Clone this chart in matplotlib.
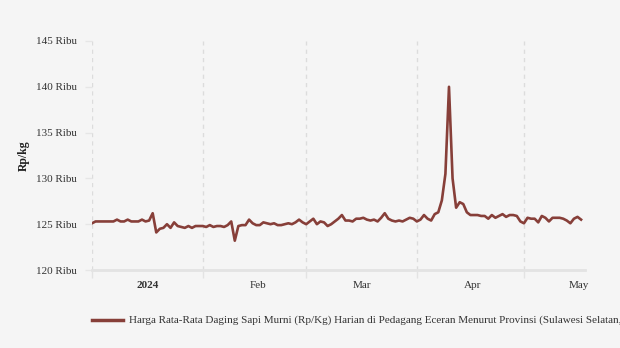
import matplotlib
matplotlib.use('Agg')
import matplotlib.pyplot as plt
import numpy as np
import pandas as pd

# daily price, thousand Rp/kg, from 1 Jan 2024
start_date = '2024-01-01'
prices = [
    125.1, 125.3, 125.3, 125.3, 125.3, 125.3, 125.3, 125.5, 125.3, 125.3,
    125.5, 125.3, 125.3, 125.3, 125.5, 125.3, 125.4, 126.2, 124.1, 124.5,
    124.6, 125.0, 124.6, 125.2, 124.8, 124.7, 124.6, 124.8, 124.6, 124.8,
    124.8, 124.8, 124.7, 124.9, 124.7, 124.8, 124.8, 124.7, 124.9, 125.3,
    123.2, 124.8, 124.9, 124.9, 125.5, 125.1, 124.9, 124.9, 125.2, 125.1,
    125.0, 125.1, 124.9, 124.9, 125.0, 125.1, 125.0, 125.2, 125.5, 125.2,
    125.0, 125.3, 125.6, 125.0, 125.3, 125.2, 124.8, 125.0, 125.3, 125.6,
    126.0, 125.4, 125.4, 125.3, 125.6, 125.6, 125.7, 125.5, 125.4, 125.5,
    125.3, 125.7, 126.2, 125.6, 125.4, 125.3, 125.4, 125.3, 125.5, 125.7,
    125.6, 125.3, 125.5, 126.0, 125.6, 125.4, 126.1, 126.3, 127.6, 130.5,
    140.0, 130.0, 126.8, 127.4, 127.2, 126.3, 126.0, 126.0, 126.0, 125.9,
    125.9, 125.6, 126.0, 125.7, 125.9, 126.1, 125.8, 126.0, 126.0, 125.9,
    125.3, 125.1, 125.7, 125.6, 125.6, 125.2, 125.9, 125.7, 125.3, 125.7,
    125.7, 125.7, 125.6, 125.4, 125.1, 125.6, 125.8, 125.5,
]
month_starts = ['2024-01-01', '2024-02-01', '2024-03-01', '2024-04-01', '2024-05-01']
month_labels = ['2024', 'Feb', 'Mar', 'Apr', 'May']
y_ticks = [120, 125, 130, 135, 140, 145]
series_name = ('Harga Rata-Rata Daging Sapi Murni (Rp/Kg) Harian di Pedagang Eceran '
               'Menurut Provinsi (Sulawesi Selatan, 2024)')

plt.rcParams['font.family'] = ['Liberation Serif', 'DejaVu Serif']
bg = '#f5f5f5'
line_color = '#873f39'

dates = pd.date_range(start_date, periods=len(prices), freq='D')
starts = pd.to_datetime(month_starts)

fig = plt.figure(figsize=(6.2, 3.48), dpi=100, facecolor=bg)
ax = fig.add_axes([92 / 620, 1 - 270 / 348, (585 - 92) / 620, (270 - 41) / 348])
ax.set_facecolor(bg)

ax.plot(dates, prices, color=line_color, lw=1.9, solid_joinstyle='round', zorder=3)

ax.set_ylim(120, 145)
ax.set_xlim(starts[0], starts[0] + pd.Timedelta(days=138.1))

for s in ['top', 'right', 'left']:
    ax.spines[s].set_visible(False)
ax.spines['bottom'].set_color('#e3e3e3')
ax.spines['bottom'].set_linewidth(2)

ax.set_yticks(y_ticks)
ax.set_yticklabels([f'{v} Ribu' for v in y_ticks])
ax.tick_params(axis='y', length=5, width=1, color='#e6e6e6', labelsize=8,
               labelcolor='#333333', pad=6)

# gridlines at month starts, labels in the middle of each month
ax.set_xticks(starts)
ax.set_xticklabels([])
ax.tick_params(axis='x', which='major', length=6, width=1, color='#e3e3e3')
for d in starts:
    ax.axvline(d, color='#dcdcdc', lw=1, ls=(0, (3, 3)), zorder=1)
mids = starts + pd.Timedelta(days=15.5)
ax.set_xticks(mids, minor=True)
ax.set_xticklabels(month_labels, minor=True)
ax.tick_params(axis='x', which='minor', length=0, labelsize=8, labelcolor='#333333', pad=8)
ax.get_xticklabels(minor=True)[0].set_fontweight('bold')

ax.set_ylabel('Rp/kg', fontsize=8.5, fontweight='bold', color='#222222', labelpad=4)

# legend drawn by hand; the long name runs off the right edge as in the original
fig.add_artist(plt.Line2D([92 / 620, 123 / 620], [1 - 320 / 348] * 2,
                          color=line_color, lw=2.5, transform=fig.transFigure))
fig.text(129 / 620, 1 - 320 / 348, series_name, fontsize=8, color='#333333',
         va='center', ha='left')

fig.savefig('out.png', dpi=100, facecolor=bg)
